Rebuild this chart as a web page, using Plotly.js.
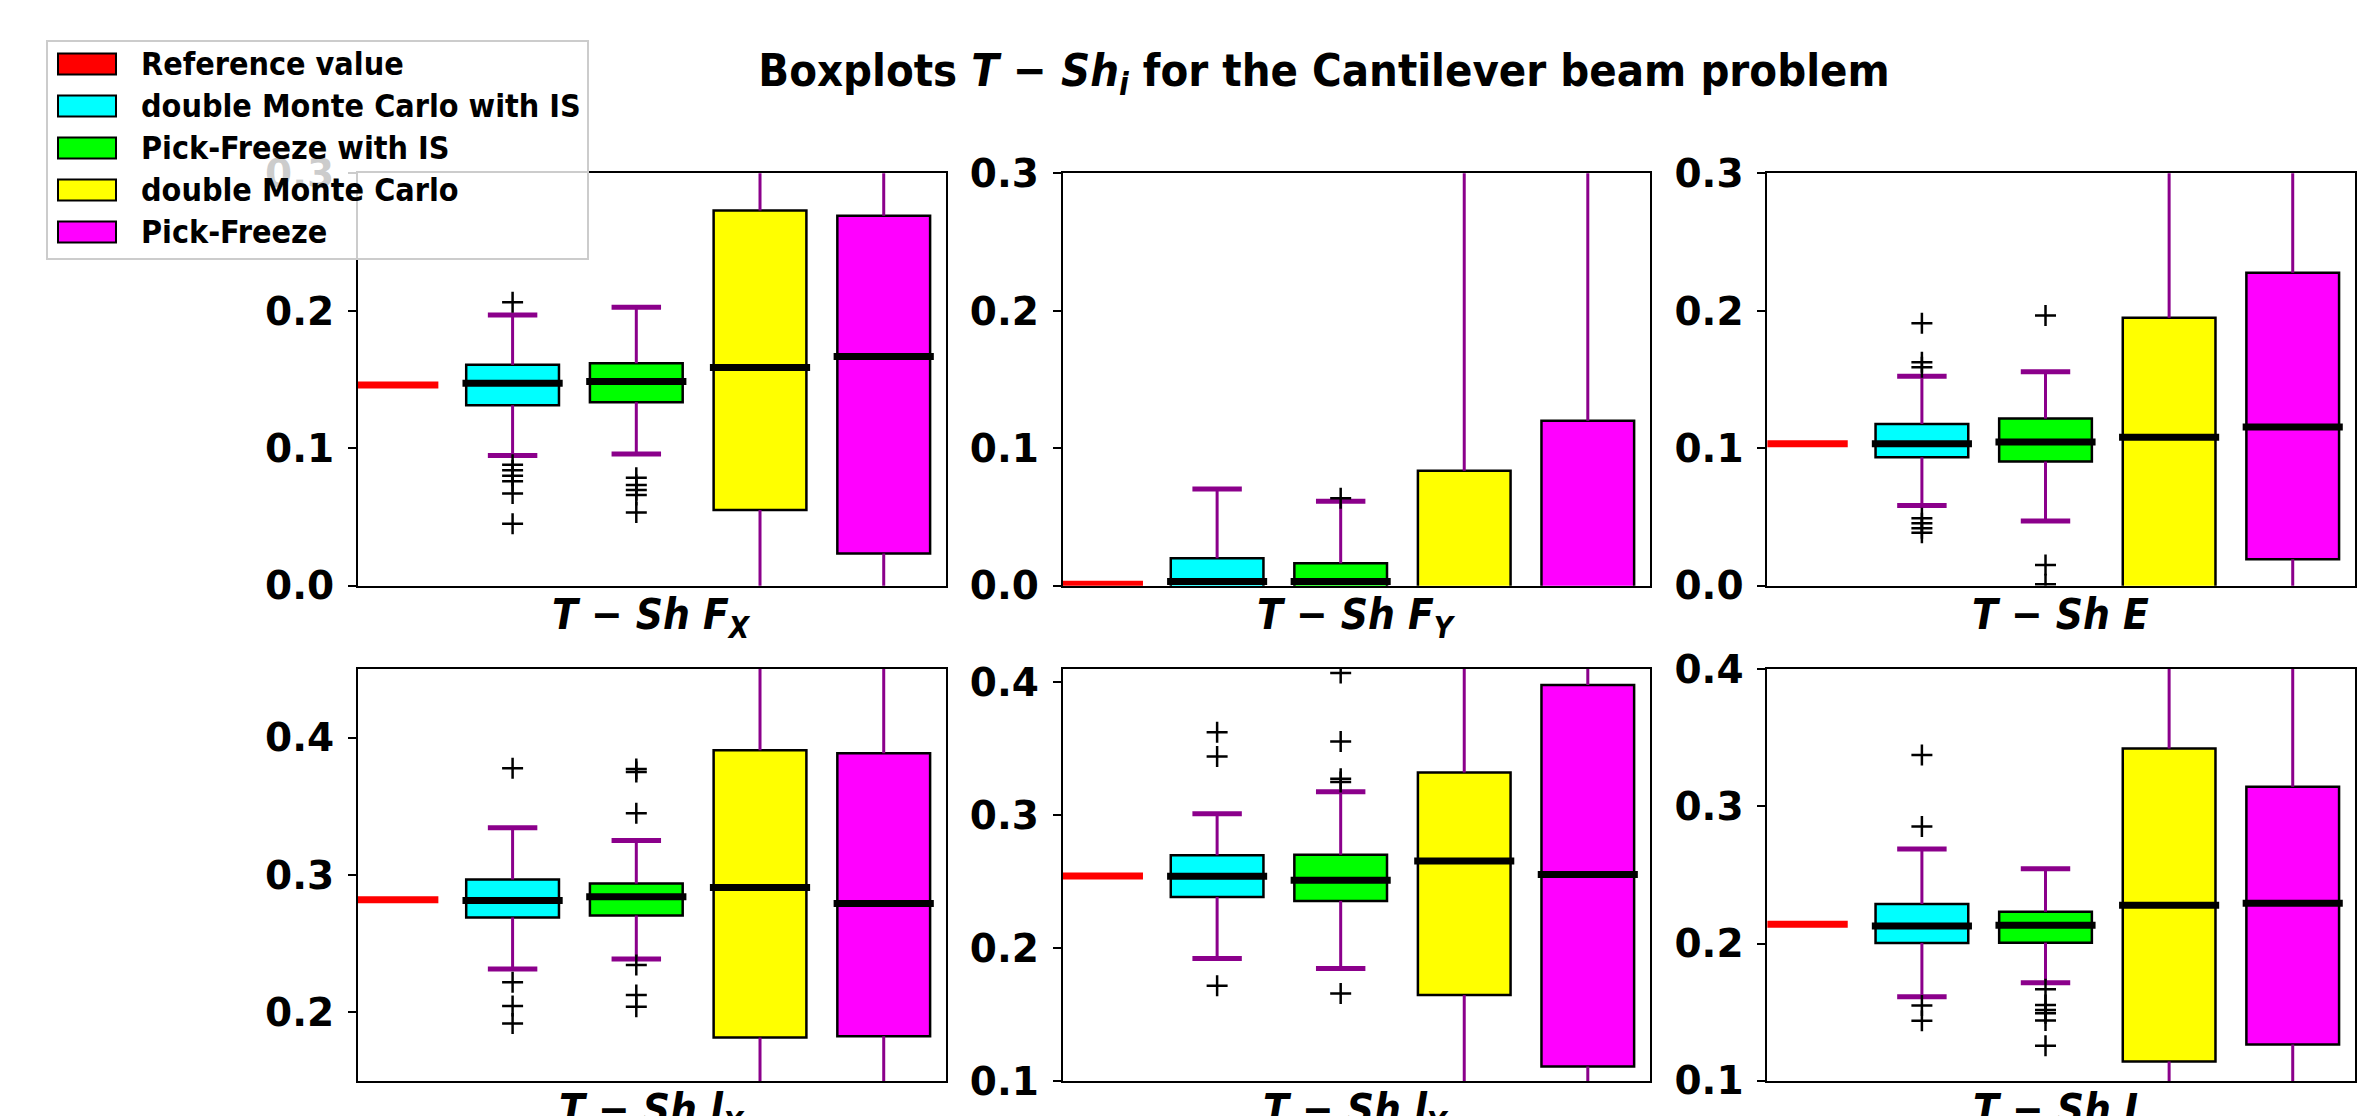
<!DOCTYPE html>
<html><head><meta charset="utf-8">
<script src="https://cdn.plot.ly/plotly-3.0.1.min.js"></script>
<style>html,body{margin:0;padding:0;background:#fff}#chart{width:2380px;height:1116px}</style>
</head><body><div id="chart"></div>
<script>
// ---------- data ----------
const panelTitles = ['T − Sh F<sub>X</sub>', 'T − Sh F<sub>Y</sub>', 'T − Sh E', 'T − Sh l<sub>X</sub>', 'T − Sh l<sub>Y</sub>', 'T − Sh L'];
const yRanges = [[0, 0.3001], [0, 0.3001], [0, 0.3001], [0.15, 0.45], [0.1, 0.41], [0.0999, 0.4001]];
const refLabel = 'Reference value';
const refColor = '#ff0000';
const refValues = [0.146, 0.001, 0.1032, 0.2819, 0.2543, 0.2141];
const methods = ['double Monte Carlo with IS', 'Pick-Freeze with IS', 'double Monte Carlo', 'Pick-Freeze'];
const methodColors = ['#00ffff', '#00ff00', '#ffff00', '#ff00ff'];

// double Monte Carlo with IS
const dmcisQ1  = [0.1313, -0.004, 0.0934, 0.2691, 0.2385, 0.2005];
const dmcisMed = [0.1473, 0.003, 0.1032, 0.2815, 0.2540, 0.2129];
const dmcisQ3  = [0.1607, 0.020, 0.1177, 0.2967, 0.2698, 0.2289];
const dmcisLo  = [0.0947, -0.05, 0.0583, 0.2315, 0.1922, 0.1612];
const dmcisHi  = [0.1970, 0.0704, 0.1524, 0.3345, 0.3011, 0.2689];
const dmcisOut = [[0.2063, 0.088, 0.084, 0.080, 0.076, 0.067, 0.045], [], [0.191, 0.1626, 0.159, 0.049, 0.0454, 0.0417, 0.0386], [0.3777, 0.2218, 0.2046, 0.1918], [0.3625, 0.3442, 0.1716], [0.3374, 0.2854, 0.1549, 0.1437]];
// Pick-Freeze with IS
const pfisQ1  = [0.1335, -0.004, 0.0903, 0.2705, 0.2355, 0.2007];
const pfisMed = [0.1485, 0.003, 0.1046, 0.2841, 0.2510, 0.2133];
const pfisQ3  = [0.1619, 0.0163, 0.1216, 0.2938, 0.2703, 0.2233];
const pfisLo  = [0.0959, -0.045, 0.0471, 0.2388, 0.1846, 0.1714];
const pfisHi  = [0.2027, 0.0614, 0.1556, 0.3251, 0.3176, 0.2546];
const pfisOut = [[0.0786, 0.0733, 0.0697, 0.066, 0.0532], [0.0636], [0.1966, 0.015, 0.001], [0.3772, 0.375, 0.345, 0.2344, 0.2126, 0.2041], [0.407, 0.3554, 0.3274, 0.3249, 0.1659], [0.1667, 0.1553, 0.1517, 0.1493, 0.1439, 0.1255]];
// double Monte Carlo
const dmcQ1  = [0.0551, -0.12, -0.02, 0.1816, 0.1646, 0.1141];
const dmcMed = [0.1587, -0.02, 0.1080, 0.2909, 0.2655, 0.2279];
const dmcQ3  = [0.2730, 0.0837, 0.1949, 0.3908, 0.3322, 0.3422];
const dmcLo  = [-0.25, -0.40, -0.35, 0.0, 0.0, -0.05];
const dmcHi  = [0.55, 0.40, 0.45, 0.60, 0.55, 0.65];
const dmcOut = [[], [], [], [], [], []];
// Pick-Freeze
const pfQ1  = [0.0235, -0.15, 0.0192, 0.1825, 0.1108, 0.1265];
const pfMed = [0.1667, -0.02, 0.1155, 0.2793, 0.2553, 0.2294];
const pfQ3  = [0.2692, 0.1200, 0.2277, 0.3886, 0.3980, 0.3143];
const pfLo  = [-0.30, -0.50, -0.30, 0.0, -0.10, 0.0];
const pfHi  = [0.60, 0.50, 0.55, 0.60, 0.65, 0.60];
const pfOut = [[], [], [], [], [], []];

const stats = [
  {q1: dmcisQ1, med: dmcisMed, q3: dmcisQ3, lo: dmcisLo, hi: dmcisHi, out: dmcisOut},
  {q1: pfisQ1, med: pfisMed, q3: pfisQ3, lo: pfisLo, hi: pfisHi, out: pfisOut},
  {q1: dmcQ1, med: dmcMed, q3: dmcQ3, lo: dmcLo, hi: dmcHi, out: dmcOut},
  {q1: pfQ1, med: pfMed, q3: pfQ3, lo: pfLo, hi: pfHi, out: pfOut}
];

// ---------- styling ----------
const FONT_C = 'DejaVu Sans Condensed, DejaVu Sans, sans-serif';
const FONT_N = 'DejaVu Sans, sans-serif';
const W = 2380, H = 1116;
const whiskColor = '#8b008b';
const boxW = 0.75, capHalf = 0.2, medHalf = 0.405, refHalf = 0.4;
const xDomains = [[0.1504, 0.3973], [0.4465, 0.6931], [0.7426, 0.9893]];
const yDomains = [[0.4752, 0.8447], [0.0314, 0.4005]];

const traces = [];
const layout = {
  width: W, height: H,
  margin: {l: 0, r: 0, t: 0, b: 0},
  paper_bgcolor: '#ffffff', plot_bgcolor: '#ffffff',
  showlegend: false,
  font: {family: FONT_C, color: '#000'},
  title: {
    text: '<b>Boxplots <i>T − Sh<sub>i</sub></i> for the Cantilever beam problem</b>',
    font: {family: FONT_C, size: 45, color: '#000'},
    x: 0.5563, xanchor: 'center', xref: 'paper',
    y: 1 - 70 / H, yanchor: 'middle', yref: 'container'
  },
  shapes: [], annotations: []
};

panelTitles.forEach((pt, p) => {
  const n = p + 1;
  const xa = n === 1 ? 'x' : 'x' + n;
  const ya = n === 1 ? 'y' : 'y' + n;
  const row = Math.floor(p / 3), col = p % 3;
  layout['xaxis' + (n === 1 ? '' : n)] = {
    domain: xDomains[col], anchor: ya, range: [0.75, 5.5],
    showticklabels: false, ticks: '', showgrid: false, zeroline: false,
    showline: true, mirror: true, linecolor: '#000', linewidth: 2,
    automargin: false, fixedrange: true
  };
  layout['yaxis' + (n === 1 ? '' : n)] = {
    domain: yDomains[row], anchor: xa, range: yRanges[p],
    tick0: 0, dtick: 0.1, tickformat: '.1f',
    ticks: 'outside', ticklen: 8, tickwidth: 2, tickcolor: '#000',
    tickfont: {family: FONT_N, size: 39, color: '#000', weight: 'bold'},
    ticklabelstandoff: 6,
    showgrid: false, zeroline: false,
    showline: true, mirror: true, linecolor: '#000', linewidth: 2,
    automargin: false, fixedrange: true
  };
  // x-axis title (placed under each panel, may run past the page bottom like the original)
  layout.annotations.push({xref: xa + ' domain', yref: ya + ' domain', x: 0.5, y: 0,
    xanchor: 'center', yanchor: 'top', yshift: -2, showarrow: false,
    text: '<b><i>' + pt + '</i></b>', font: {family: FONT_C, size: 42, color: '#000'}});

  // reference value
  traces.push({type: 'scatter', mode: 'lines', xaxis: xa, yaxis: ya,
    x: [1 - refHalf, 1 + refHalf], y: [refValues[p], refValues[p]],
    line: {color: refColor, width: 7}, hoverinfo: 'skip', name: refLabel});

  stats.forEach((s, m) => {
    const pos = m + 2;
    // whiskers
    traces.push({type: 'scatter', mode: 'lines', xaxis: xa, yaxis: ya,
      x: [pos, pos, null, pos, pos], y: [s.q3[p], s.hi[p], null, s.q1[p], s.lo[p]],
      line: {color: whiskColor, width: 3}, hoverinfo: 'skip', name: methods[m]});
    // caps
    traces.push({type: 'scatter', mode: 'lines', xaxis: xa, yaxis: ya,
      x: [pos - capHalf, pos + capHalf, null, pos - capHalf, pos + capHalf],
      y: [s.hi[p], s.hi[p], null, s.lo[p], s.lo[p]],
      line: {color: whiskColor, width: 5}, hoverinfo: 'skip', name: methods[m]});
    // box
    traces.push({type: 'box', xaxis: xa, yaxis: ya, name: methods[m],
      x: [pos], q1: [s.q1[p]], median: [s.med[p]], q3: [s.q3[p]],
      lowerfence: [s.q1[p]], upperfence: [s.q3[p]],
      width: boxW, whiskerwidth: 0, boxpoints: false,
      fillcolor: methodColors[m], line: {color: '#000', width: 2.5}, hoverinfo: 'skip'});
    // median
    traces.push({type: 'scatter', mode: 'lines', xaxis: xa, yaxis: ya,
      x: [pos - medHalf, pos + medHalf], y: [s.med[p], s.med[p]],
      line: {color: '#000', width: 7}, hoverinfo: 'skip', name: methods[m]});
    // outliers
    if (s.out[p].length) {
      traces.push({type: 'scatter', mode: 'markers', xaxis: xa, yaxis: ya,
        x: s.out[p].map(() => pos), y: s.out[p],
        marker: {symbol: 'cross-thin', size: 15, color: '#000', line: {color: '#000', width: 2.5}},
        hoverinfo: 'skip', name: methods[m]});
    }
  });
});

// ---------- legend (drawn in paper space) ----------
const px = v => v / W, py = v => 1 - v / H;
layout.shapes.push({type: 'rect', xref: 'paper', yref: 'paper', layer: 'above',
  x0: px(47), x1: px(588), y0: py(41), y1: py(259),
  fillcolor: 'rgba(255,255,255,0.8)', line: {color: '#cccccc', width: 2}});
const legLabels = [refLabel].concat(methods);
const legColors = [refColor].concat(methodColors);
const rowY0 = 64, rowStep = 42;
legLabels.forEach((lab, i) => {
  const cy = rowY0 + i * rowStep;
  layout.shapes.push({type: 'rect', xref: 'paper', yref: 'paper', layer: 'above',
    x0: px(58), x1: px(116), y0: py(cy - 10.5), y1: py(cy + 10.5),
    fillcolor: legColors[i], line: {color: '#000', width: 2}});
  layout.annotations.push({xref: 'paper', yref: 'paper', x: px(139), y: py(cy),
    xanchor: 'left', yanchor: 'middle', showarrow: false,
    text: '<b>' + lab + '</b>', font: {family: FONT_C, size: 32, color: '#000'}});
});

Plotly.newPlot('chart', traces, layout, {displayModeBar: false, staticPlot: true});
</script></body></html>
